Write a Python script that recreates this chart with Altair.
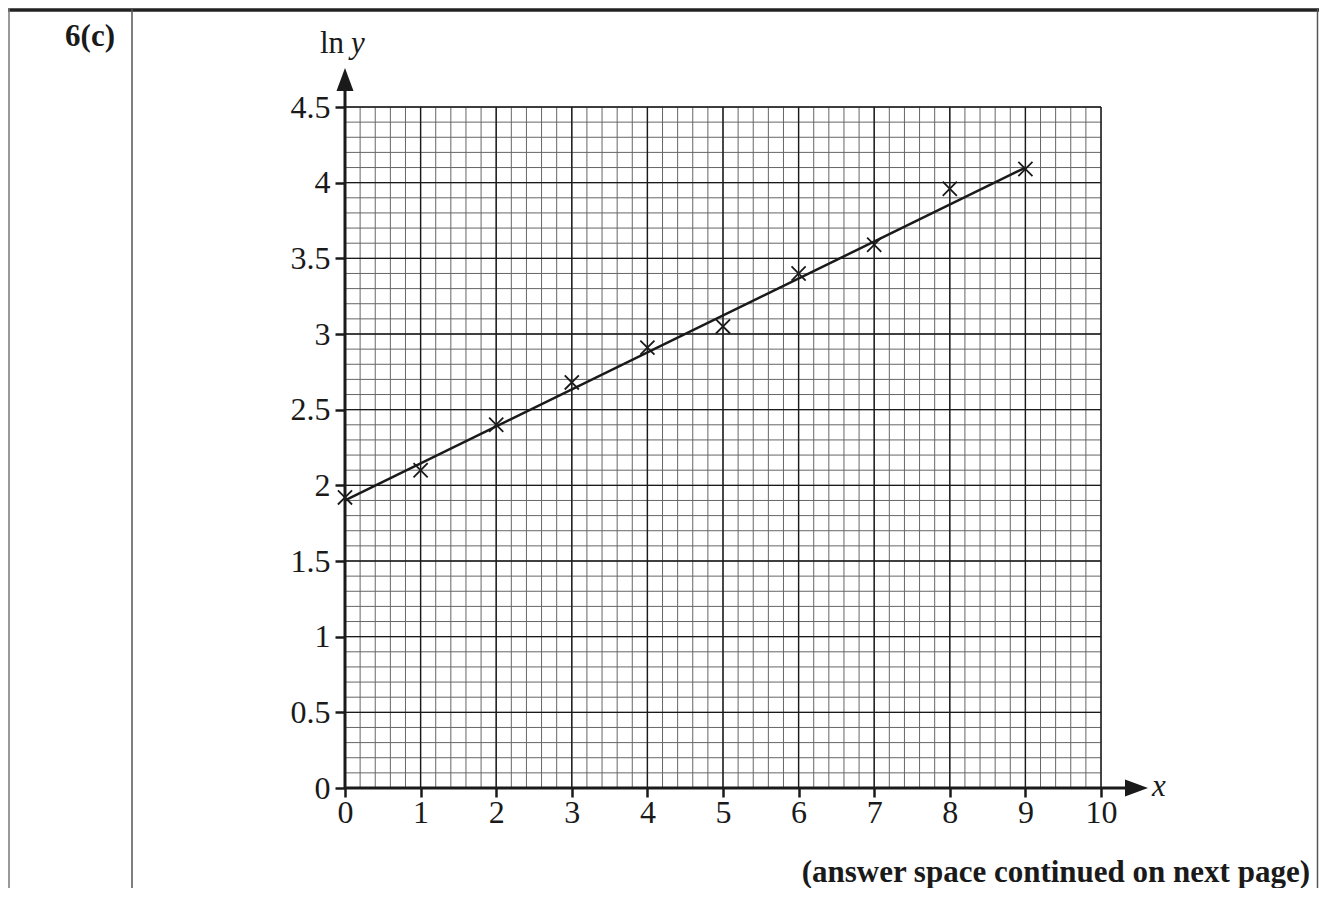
import altair as alt
import pandas as pd

# ---- data ----
x_vals = [0, 1, 2, 3, 4, 5, 6, 7, 8, 9]
lny_vals = [1.92, 2.10, 2.40, 2.68, 2.91, 3.05, 3.40, 3.59, 3.96, 4.09]
fit_x = [0, 9]
fit_y = [1.90, 4.10]
x_major = [0, 1, 2, 3, 4, 5, 6, 7, 8, 9, 10]
y_major = [0, 0.5, 1, 1.5, 2, 2.5, 3, 3.5, 4, 4.5]
x_minor = [round(i * 0.2, 1) for i in range(51)]
y_minor = [round(i * 0.1, 1) for i in range(46)]

W, H = 756, 681
SERIF = "Liberation Serif"
INK = "#1a1a1a"

pts = pd.DataFrame({"x": x_vals, "lny": lny_vals})
fit = pd.DataFrame({"x": fit_x, "lny": fit_y})
one = pd.DataFrame({"a": [0]})

xs = alt.Scale(domain=[0, 10], nice=False, zero=False)
ys = alt.Scale(domain=[0, 4.5], nice=False, zero=False)

x_axis = alt.Axis(
    values=x_major, orient="bottom", domain=False, grid=False, ticks=True,
    tickSize=9, tickWidth=2.5, tickColor=INK, labelFont=SERIF, labelFontSize=32,
    labelColor=INK, labelPadding=0, labelExpr="datum.value", title=None, offset=0,
    labelFlush=False, labelOverlap=False)
y_axis = alt.Axis(
    values=y_major, orient="left", domain=False, grid=False, ticks=True,
    tickSize=10, tickWidth=2.5, tickColor=INK, labelFont=SERIF, labelFontSize=32,
    labelColor=INK, labelPadding=5, labelExpr="datum.value", title=None, offset=0,
    labelFlush=False, labelOverlap=False)

grid_xmin = alt.Chart(pd.DataFrame({"x": x_minor})).mark_rule(color="#666666", strokeWidth=1).encode(
    x=alt.X("x:Q", scale=xs, axis=x_axis))
grid_ymin = alt.Chart(pd.DataFrame({"lny": y_minor})).mark_rule(color="#666666", strokeWidth=1).encode(
    y=alt.Y("lny:Q", scale=ys, axis=y_axis))
grid_xmaj = alt.Chart(pd.DataFrame({"x": x_major})).mark_rule(color=INK, strokeWidth=1.4).encode(
    x=alt.X("x:Q", scale=xs, axis=x_axis))
grid_ymaj = alt.Chart(pd.DataFrame({"lny": y_major})).mark_rule(color=INK, strokeWidth=1.4).encode(
    y=alt.Y("lny:Q", scale=ys, axis=y_axis))

fit_line = alt.Chart(fit).mark_line(color=INK, strokeWidth=2.5).encode(
    x=alt.X("x:Q", scale=xs, axis=x_axis),
    y=alt.Y("lny:Q", scale=ys, axis=y_axis))

points = alt.Chart(pts).mark_point(
    shape="M-1,-1L1,1M-1,1L1,-1", filled=False, size=200, strokeWidth=1.8, color=INK, opacity=1
).encode(
    x=alt.X("x:Q", scale=xs, axis=x_axis),
    y=alt.Y("lny:Q", scale=ys, axis=y_axis),
)

# axis lines with arrows
yaxis_line = alt.Chart(one).mark_rule(color=INK, strokeWidth=3).encode(
    x=alt.value(0), y=alt.value(H), y2=alt.value(-22))
xaxis_line = alt.Chart(one).mark_rule(color=INK, strokeWidth=3).encode(
    x=alt.value(0), x2=alt.value(785), y=alt.value(H))
yarrow = alt.Chart(one).mark_point(
    shape="M0,-1L0.74,1L-0.74,1Z", filled=True, size=529, color=INK, opacity=1, strokeWidth=0
).encode(x=alt.value(0), y=alt.value(-27.5))
xarrow = alt.Chart(one).mark_point(
    shape="M1,0L-1,-0.74L-1,0.74Z", filled=True, size=529, color=INK, opacity=1, strokeWidth=0
).encode(x=alt.value(791.5), y=alt.value(H))

# axis titles
t_ln = alt.Chart(one).mark_text(font=SERIF, fontSize=31, color=INK, align="right", baseline="alphabetic").encode(
    x=alt.value(-1), y=alt.value(-54), text=alt.value("ln"))
t_y = alt.Chart(one).mark_text(font=SERIF, fontSize=31, fontStyle="italic", color=INK, align="left", baseline="alphabetic").encode(
    x=alt.value(6), y=alt.value(-54), text=alt.value("y"))
t_x = alt.Chart(one).mark_text(font=SERIF, fontSize=31, fontStyle="italic", color=INK, align="left", baseline="alphabetic").encode(
    x=alt.value(807), y=alt.value(689), text=alt.value("x"))

# page / table furniture
top_border = alt.Chart(one).mark_rule(color="#222222", strokeWidth=3.5).encode(
    x=alt.value(-340), x2=alt.value(980), y=alt.value(-97))
left_border = alt.Chart(one).mark_rule(color="#777777", strokeWidth=1.5).encode(
    x=alt.value(-336), y=alt.value(-99), y2=alt.value(800))
col_sep = alt.Chart(one).mark_rule(color="#555555", strokeWidth=1.5).encode(
    x=alt.value(-213), y=alt.value(-99), y2=alt.value(800))
right_border = alt.Chart(one).mark_rule(color="#555555", strokeWidth=1.5).encode(
    x=alt.value(972.5), y=alt.value(-99), y2=alt.value(800))
t_q = alt.Chart(one).mark_text(font=SERIF, fontSize=31, fontWeight="bold", color=INK, align="right", baseline="alphabetic").encode(
    x=alt.value(-230), y=alt.value(-61), text=alt.value("6(c)"))
t_foot = alt.Chart(one).mark_text(font=SERIF, fontSize=31, fontWeight="bold", color=INK, align="right", baseline="alphabetic").encode(
    x=alt.value(965), y=alt.value(775), text=alt.value("(answer space continued on next page)"))

chart = alt.layer(
    grid_xmin, grid_ymin, grid_xmaj, grid_ymaj, fit_line, points,
    yaxis_line, xaxis_line, yarrow, xarrow, t_ln, t_y, t_x,
    top_border, left_border, col_sep, right_border, t_q, t_foot
).properties(
    width=W, height=H,
    autosize=alt.AutoSizeParams(type="none"),
    padding={"left": 337, "top": 99, "right": 218, "bottom": 100},
).configure_view(stroke=None).configure(background="white")

chart.save("out.html", embed_options={"renderer": "svg", "actions": False})
